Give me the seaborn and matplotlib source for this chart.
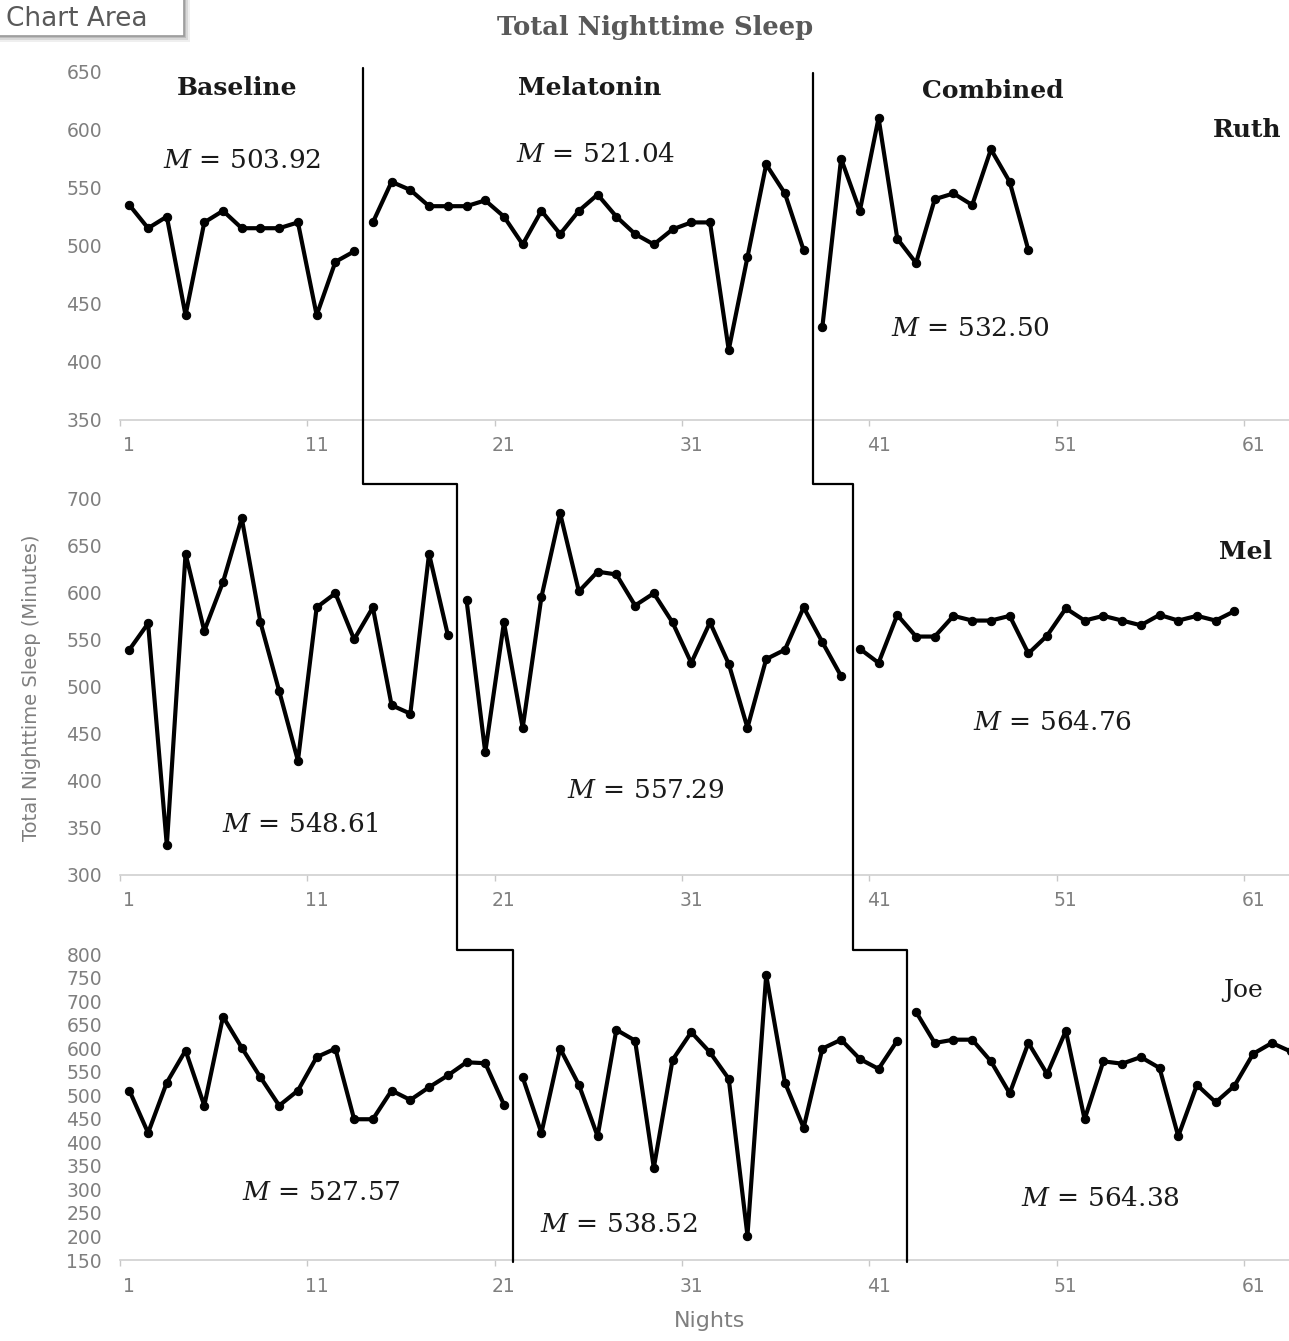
import numpy as np
import pandas as pd
import matplotlib
matplotlib.use("Agg")
import matplotlib.pyplot as plt
from matplotlib.lines import Line2D
from matplotlib.patches import Rectangle
import seaborn as sns

# ---------------- data: total nighttime sleep (minutes) per night ----------------
participants = ["Ruth", "Mel", "Joe"]
phases = ["Baseline", "Melatonin", "Combined"]

ruth_baseline = [535, 515, 525, 440, 520, 530, 515, 515, 515, 520, 440, 486, 495]
ruth_melatonin = [520, 555, 548, 534, 534, 534, 539, 525, 501, 530, 510, 530,
                  544, 525, 510, 501, 514, 520, 520, 410, 490, 570, 545, 496]
ruth_combined = [430, 575, 530, 610, 506, 485, 540, 545, 535, 583, 555, 496]

mel_baseline = [539, 567, 331, 641, 559, 611, 679, 568, 495, 421, 584, 599,
                550, 584, 480, 471, 641, 555]
mel_melatonin = [592, 430, 568, 456, 595, 684, 601, 622, 619, 586, 599, 568,
                 525, 568, 524, 456, 529, 539, 584, 547, 511]
mel_combined = [540, 525, 576, 553, 553, 575, 570, 570, 575, 535, 554, 583,
                570, 575, 570, 565, 576, 570, 575, 570, 580]

joe_baseline = [510, 420, 527, 595, 478, 667, 601, 538, 478, 510, 581, 599,
                449, 449, 510, 490, 517, 542, 570, 568, 480]
joe_melatonin = [538, 420, 599, 522, 413, 639, 616, 346, 575, 634, 591, 535,
                 202, 755, 527, 431, 599, 618, 577, 556, 616]
joe_combined = [677, 611, 618, 618, 572, 504, 611, 545, 637, 449, 572, 567,
                581, 558, 413, 522, 485, 520, 588, 611, 593]

# first night of each phase
ruth_phase_start = [1, 14, 38]
mel_phase_start = [1, 19, 40]
joe_phase_start = [1, 22, 43]

# phase-change positions (in nights) for each participant
ruth_phase_change = [13.47, 37.5]
mel_phase_change = [18.49, 39.65]
joe_phase_change = [21.48, 42.52]

y_limits = {"Ruth": (350, 650), "Mel": (300, 700), "Joe": (150, 800)}
x_tick_labels = [1, 11, 21, 31, 41, 51, 61]

series = {
    "Ruth": ([ruth_baseline, ruth_melatonin, ruth_combined], ruth_phase_start),
    "Mel": ([mel_baseline, mel_melatonin, mel_combined], mel_phase_start),
    "Joe": ([joe_baseline, joe_melatonin, joe_combined], joe_phase_start),
}

rows = []
for person, (vals_list, starts) in series.items():
    for phase, vals, s in zip(phases, vals_list, starts):
        for i, v in enumerate(vals):
            rows.append({"person": person, "phase": phase, "night": s + i, "minutes": v})
df = pd.DataFrame(rows)

# ---------------- figure ----------------
sns.set_theme(style="white")
plt.rcParams["font.family"] = ["DejaVu Sans"]
plt.rcParams["mathtext.fontset"] = "dejavuserif"

W, H = 1289, 1341
fig = plt.figure(figsize=(W / 100, H / 100), dpi=100)
fig.patch.set_facecolor("white")


def fx(px):
    return px / W


def fy(py):
    return 1 - py / H


CAT_W = 18.73          # pixels per night
AX_LEFT, AX_RIGHT = 120, 1289
xmax = 0.5 + (AX_RIGHT - AX_LEFT) / CAT_W

panel_box = {"Ruth": (71.7, 419.5), "Mel": (498.3, 874.5), "Joe": (954.0, 1260.0)}

tick_grey = "#7f7f7f"
axes = {}
for person in participants:
    top, bottom = panel_box[person]
    ax = fig.add_axes([fx(AX_LEFT), fy(bottom), fx(AX_RIGHT) - fx(AX_LEFT), (bottom - top) / H])
    ax.patch.set_alpha(0)
    sub = df[df["person"] == person]
    sns.lineplot(data=sub, x="night", y="minutes", units="phase", estimator=None,
                 color="black", linewidth=3.0, marker="o", markersize=6,
                 markeredgecolor="black", ax=ax, legend=False)
    lo, hi = y_limits[person]
    ax.set_xlim(0.5, xmax)
    ax.set_ylim(lo, hi)
    ax.set_yticks(np.arange(lo, hi + 1, 50))
    ax.set_xticks(x_tick_labels)
    ax.set_xticks(np.arange(0.5, xmax, 10), minor=True)
    ax.tick_params(axis="x", which="major", bottom=True, length=0, pad=12,
                   labelsize=13.5, labelcolor=tick_grey)
    ax.tick_params(axis="x", which="minor", bottom=True, length=4, width=1,
                   color="#c8c8c8", direction="out")
    ax.tick_params(axis="y", left=False, length=0, pad=13, labelsize=13.5,
                   labelcolor=tick_grey)
    for s in ["top", "right", "left"]:
        ax.spines[s].set_visible(False)
    ax.spines["bottom"].set_color("#d0d0d0")
    ax.spines["bottom"].set_linewidth(1.2)
    ax.set_xlabel("")
    ax.set_ylabel("")
    ax.grid(False)
    axes[person] = ax

# ---------------- phase-change lines (stepped across panels) ----------------
def night_px(n):
    return AX_LEFT + (n - 0.5) * CAT_W


for k, y_top in zip(range(2), [68, 73]):
    xr = night_px(ruth_phase_change[k])
    xm = night_px(mel_phase_change[k])
    xj = night_px(joe_phase_change[k])
    xs = [xr, xr, xm, xm, xj, xj]
    ys = [y_top, 484, 484, 950, 950, 1262]
    fig.add_artist(Line2D([fx(v) for v in xs], [fy(v) for v in ys],
                          color="black", linewidth=1.6, zorder=5))

# ---------------- text ----------------
serif = "DejaVu Serif"
text_dark = "#1a1a1a"

fig.text(fx(655), fy(27), "Total Nighttime Sleep", family=serif, weight="bold",
         size=18.5, color="#595959", ha="center", va="center")

for name, (x, y) in zip(phases, [(237, 88), (590, 88), (993, 91)]):
    fig.text(fx(x), fy(y), name, family=serif, weight="bold", size=18,
             color=text_dark, ha="center", va="center")

for person, (x, y), wt in zip(participants, [(1247, 130), (1246, 552), (1243, 990)],
                              ["bold", "bold", "normal"]):
    fig.text(fx(x), fy(y), person, family=serif, weight=wt, size=18,
             color=text_dark, ha="center", va="center")

mean_pos = {
    "Ruth": [(242, 160), (596, 155), (970, 329)],
    "Mel": [(300, 825), (646, 790), (1052, 723)],
    "Joe": [(321, 1192), (619, 1225), (1100, 1198)],
}
for person in participants:
    vals_list, _ = series[person]
    for vals, (x, y) in zip(vals_list, mean_pos[person]):
        fig.text(fx(x), fy(y), rf"$M$ = {np.mean(vals):.2f}", family=serif,
                 size=19, color=text_dark, ha="center", va="center")

fig.text(fx(32), fy(688), "Total Nighttime Sleep (Minutes)", rotation=90,
         size=14, color=tick_grey, ha="center", va="center")
fig.text(fx(710), fy(1321), "Nights", size=16, color=tick_grey,
         ha="center", va="center")

# ---------------- "Chart Area" hover tip ----------------
for off, alpha in [(6, 0.12), (4, 0.2), (2, 0.3)]:
    fig.add_artist(Rectangle((fx(-10 + off), fy(36 + off)), fx(194), 48 / H,
                             facecolor="#808080", edgecolor="none", alpha=alpha, zorder=8))
fig.add_artist(Rectangle((fx(-10), fy(36)), fx(194), 48 / H, facecolor="white",
                         edgecolor="#9a9a9a", linewidth=1.2, zorder=9))
fig.text(fx(6), fy(26), "Chart Area", size=19, color="#595959",
         ha="left", va="baseline", zorder=10)

fig.savefig("out.png", dpi=100, facecolor="white")
